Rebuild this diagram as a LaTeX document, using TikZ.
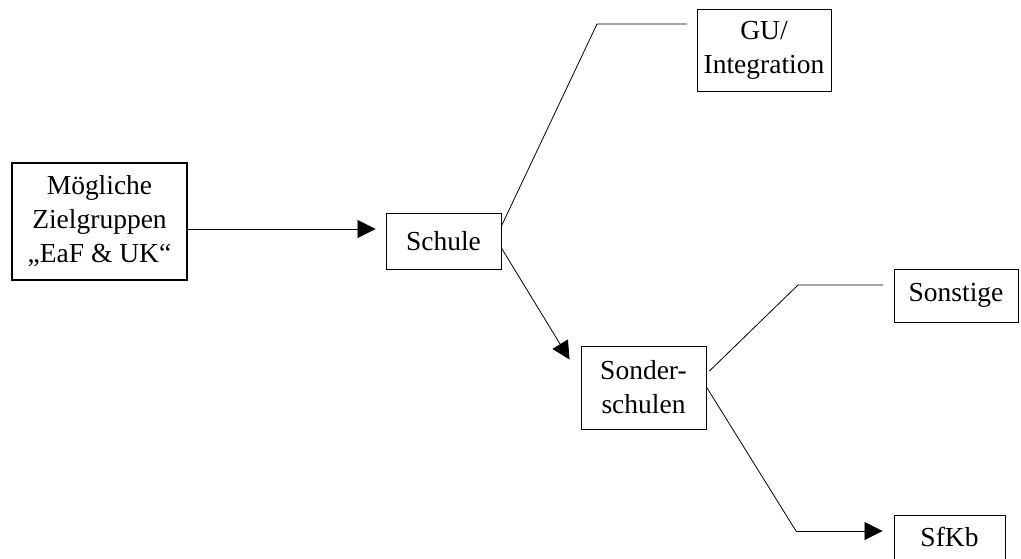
\documentclass[tikz,border=0pt]{standalone}
\usepackage{fontspec}
\setmainfont{Liberation Serif}
\usetikzlibrary{arrows.meta}

\begin{document}
\begin{tikzpicture}[x=1pt, y=-1pt,
		box/.style={draw, line width=0.9pt, align=center, inner sep=0pt,
			font=\fontsize{27.5}{34}\selectfont},
		link/.style={draw, line width=0.8pt},
		arr/.style={link, -{Triangle[length=18pt, width=18pt]}}]
		\useasboundingbox (0,0) rectangle (1021,558);
		% boxes
		\node[box, line width=2.2pt, minimum width=175, minimum height=117] (ziel) at (99.5,221.5) {Mögliche\\Zielgruppen\\„EaF \& UK“};
		\node[box, minimum width=115, minimum height=56] (schule) at (443.5,241) {Schule};
		\node[box, minimum width=134, minimum height=82] (gu) at (764,50) {GU/\\Integration};
		\node[box, minimum width=125, minimum height=83] (sonder) at (643.5,387.5) {Sonder-\\schulen};
		\node[box, minimum width=124, minimum height=53] (sonst) at (956,295.5) {Sonstige};
		\node[box, minimum width=111, minimum height=44] (sfkb) at (949.5,537) {SfKb};
		% bends
		\coordinate (k1) at (597,24);
		\coordinate (k1e) at (687,24);
		\coordinate (k2) at (798,285);
		\coordinate (k2e) at (883,285);
		\coordinate (k3) at (796,531);
		% connectors
		\draw[arr] ([yshift=-7.5pt]ziel.east) -- ([xshift=-10pt, yshift=12pt]schule.west);
		\draw[link] ([yshift=15pt]schule.east) -- (k1) -- (k1e);
		\draw[arr] ([yshift=-7pt]schule.east) -- ([xshift=-11pt, yshift=-14pt]sonder.north west);
		\draw[link] ([xshift=3pt, yshift=16.5pt]sonder.east) -- (k2) -- (k2e);
		\draw[link] ([yshift=0.5pt]sonder.east) -- (k3);
		\draw[arr] (k3) -- ([xshift=-11pt, yshift=6pt]sfkb.west);
	\end{tikzpicture}
\end{document}
